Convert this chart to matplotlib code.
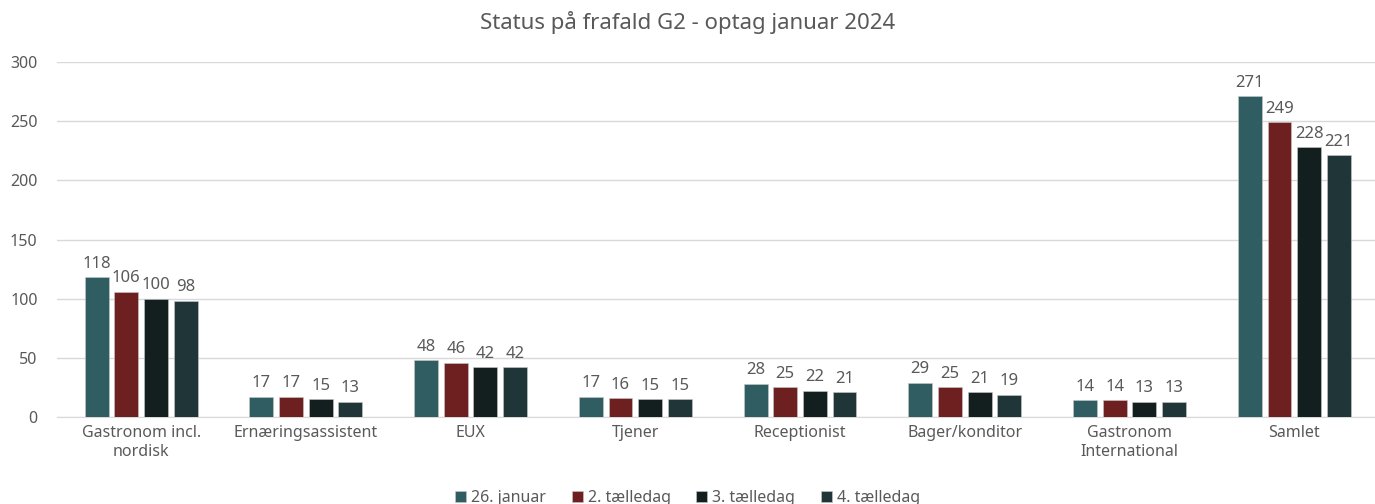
import matplotlib.pyplot as plt
import numpy as np

plt.rcParams["font.family"] = ["Noto Sans", "DejaVu Sans"]

categories = ["Gastronom incl.\nnordisk", "Ernæringsassistent", "EUX", "Tjener",
              "Receptionist", "Bager/konditor", "Gastronom\nInternational", "Samlet"]
series_names = ["26. januar", "2. tælledag", "3. tælledag", "4. tælledag"]
jan26 = [118, 17, 48, 17, 28, 29, 14, 271]
day2 = [106, 17, 46, 16, 25, 25, 14, 249]
day3 = [100, 15, 42, 15, 22, 21, 13, 228]
day4 = [98, 13, 42, 15, 21, 19, 13, 221]
y_ticks = [0, 50, 100, 150, 200, 250, 300]

COLORS = ["#2F5D62", "#6E1F1F", "#131F1E", "#1F3537"]
TEXT = "#595959"

fig = plt.figure(figsize=(13.75, 5.04), dpi=100)
ax = fig.add_axes([0.0415, 0.1726, 0.9585, 0.7044])

x = np.arange(len(categories))
width = 0.145
pitch = 0.18
for i, (name, vals) in enumerate(zip(series_names, [jan26, day2, day3, day4])):
    pos = x + (i - 1.5) * pitch + 0.01
    bars = ax.bar(pos, vals, width, color=COLORS[i], label=name,
                  edgecolor="#c8c8c8", linewidth=0.4, zorder=3)
    ax.bar_label(bars, padding=4, fontsize=12, color=TEXT)

ax.set_xlim(-0.5, len(categories) - 0.5)
ax.set_ylim(0, 300)
ax.set_yticks(y_ticks)
ax.grid(axis="y", color="#d9d9d9", linewidth=1, zorder=0)
ax.set_xticks(x + 0.01)
ax.set_xticklabels(categories, fontsize=11.5, color=TEXT)
ax.tick_params(axis="y", labelsize=11.5, labelcolor=TEXT, length=0, pad=14)
ax.tick_params(axis="x", length=0, pad=6)
for s in ["top", "right", "left"]:
    ax.spines[s].set_visible(False)
ax.spines["bottom"].set_color("#d9d9d9")

fig.text(0.5, 0.955, "Status på frafald G2 - optag januar 2024", ha="center", va="center",
         fontsize=16, color=TEXT)

fig.legend(loc="center", bbox_to_anchor=(0.5, 0.012), ncol=4, frameon=False,
           fontsize=11.5, labelcolor=TEXT, handlelength=0.7, handleheight=0.7,
           handletextpad=0.3, columnspacing=1.6)

fig.savefig("out.png", dpi=100)
